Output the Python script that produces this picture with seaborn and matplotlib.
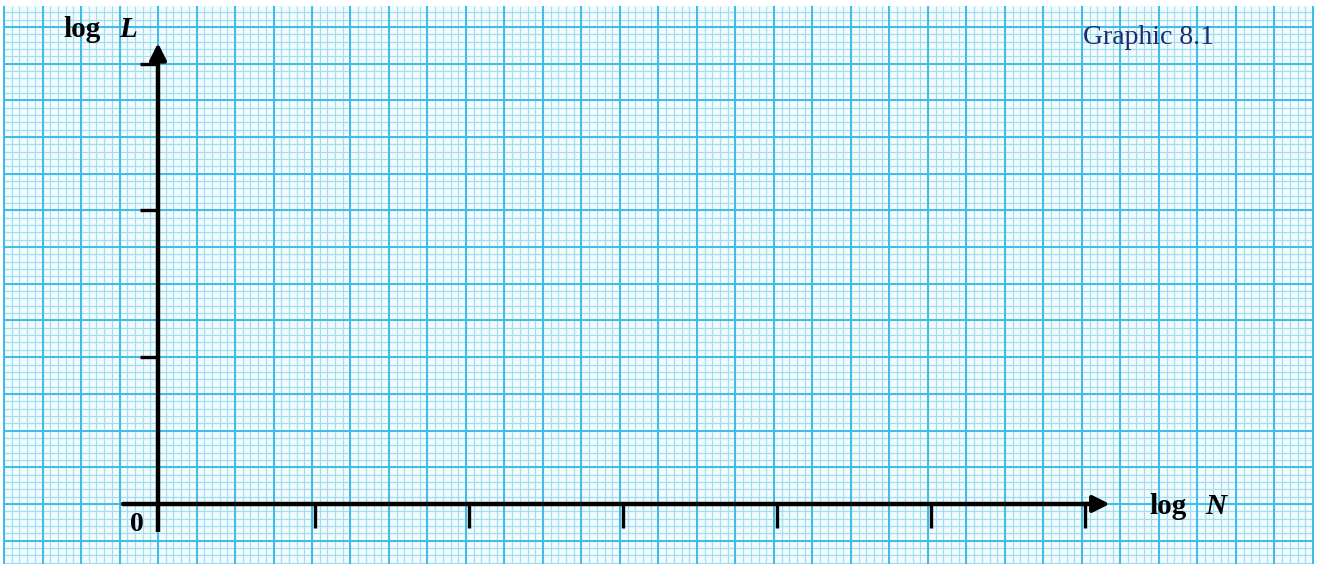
"""Blank graph-paper template: log L against log N (Graphic 8.1)."""

import matplotlib

matplotlib.use("Agg")
import matplotlib.pyplot as plt
import numpy as np
import pandas as pd
import seaborn as sns

# ---------- data ----------
x_ticks = [1, 2, 3, 4, 5, 6]
y_ticks = [1, 2, 3]
x_axis_span = [-0.23, 6.18]
y_axis_span = [-0.19, 3.14]
x_label = ("log", "N")
y_label = ("log", "L")
origin_label = "0"
caption = "Graphic 8.1"

# paper extent in axis units (one unit = one tick = four big squares)
paper_x = (-1.0, 7.5)
paper_y = (-0.45, 3.39)

sns.set_style("white")
plt.rcParams["font.family"] = ["Liberation Serif", "DejaVu Serif"]
plt.rcParams["text.color"] = "black"

fig = plt.figure(figsize=(13.25, 5.64), dpi=100)
ax = fig.add_axes([0, 0, 1, 1])
ax.set_xlim(-1.026, 7.578)
ax.set_ylim(-0.409, 3.433)
ax.axis("off")

# ---------- graph paper ----------
ax.axvspan(*paper_x, ymin=0, ymax=(paper_y[1] + 0.409) / 3.842,
           color="#f2fbfd", zorder=0, lw=0)
minor_x = np.arange(paper_x[0], paper_x[1] + 1e-9, 0.05)
minor_y = np.arange(-0.4, paper_y[1], 0.05)
major_x = np.arange(paper_x[0], paper_x[1] + 1e-9, 0.25)
major_y = np.arange(-0.25, paper_y[1], 0.25)
ax.vlines(minor_x, paper_y[0], paper_y[1], color="#a3def0", lw=0.9, zorder=1)
ax.hlines(minor_y, paper_x[0], paper_x[1], color="#a3def0", lw=0.9, zorder=1)
ax.vlines(major_x, paper_y[0], paper_y[1], color="#40bce6", lw=1.4, zorder=2)
ax.hlines(major_y, paper_x[0], paper_x[1], color="#40bce6", lw=1.4, zorder=2)

# ---------- axes ----------
axes_df = pd.DataFrame({"x": x_axis_span[:1] + [6.05], "y": [0, 0]})
sns.lineplot(data=axes_df, x="x", y="y", color="black", lw=3.2, ax=ax, zorder=5)
head = "-|>,head_length=1.0,head_width=0.5"
ax.annotate("", xy=(x_axis_span[1], 0), xytext=(6.0, 0),
            arrowprops=dict(arrowstyle=head, color="black", lw=3,
                            shrinkA=0, shrinkB=0),
            zorder=6)
ax.plot([0, 0], [y_axis_span[0], 3.0], color="black", lw=3.2, zorder=5,
        solid_capstyle="butt")
ax.annotate("", xy=(0, y_axis_span[1]), xytext=(0, 3.0),
            arrowprops=dict(arrowstyle=head, color="black", lw=3,
                            shrinkA=0, shrinkB=0),
            zorder=6)

ax.vlines(np.array(x_ticks) + 0.02, -0.165, 0, color="black", lw=2.4, zorder=5)
ax.hlines(y_ticks, -0.12, 0, color="black", lw=2.4, zorder=5)

# ---------- text ----------
ax.text(-0.615, 3.23, y_label[0], fontsize=21, fontweight="bold",
        va="center", ha="left", zorder=7)
ax.text(-0.25, 3.23, y_label[1], fontsize=21, fontweight="bold",
        fontstyle="italic", va="center", ha="left", zorder=7)
ax.text(6.44, -0.02, x_label[0], fontsize=21, fontweight="bold",
        va="center", ha="left", zorder=7)
ax.text(6.8, -0.02, x_label[1], fontsize=21, fontweight="bold",
        fontstyle="italic", va="center", ha="left", zorder=7)
ax.text(-0.18, -0.14, origin_label, fontsize=20, fontweight="bold",
        va="center", ha="left", zorder=7)
ax.text(6.005, 3.175, caption, fontsize=20, color="#1c2c6e",
        va="center", ha="left", zorder=7)

fig.savefig("out.png", dpi=100, facecolor="white")
